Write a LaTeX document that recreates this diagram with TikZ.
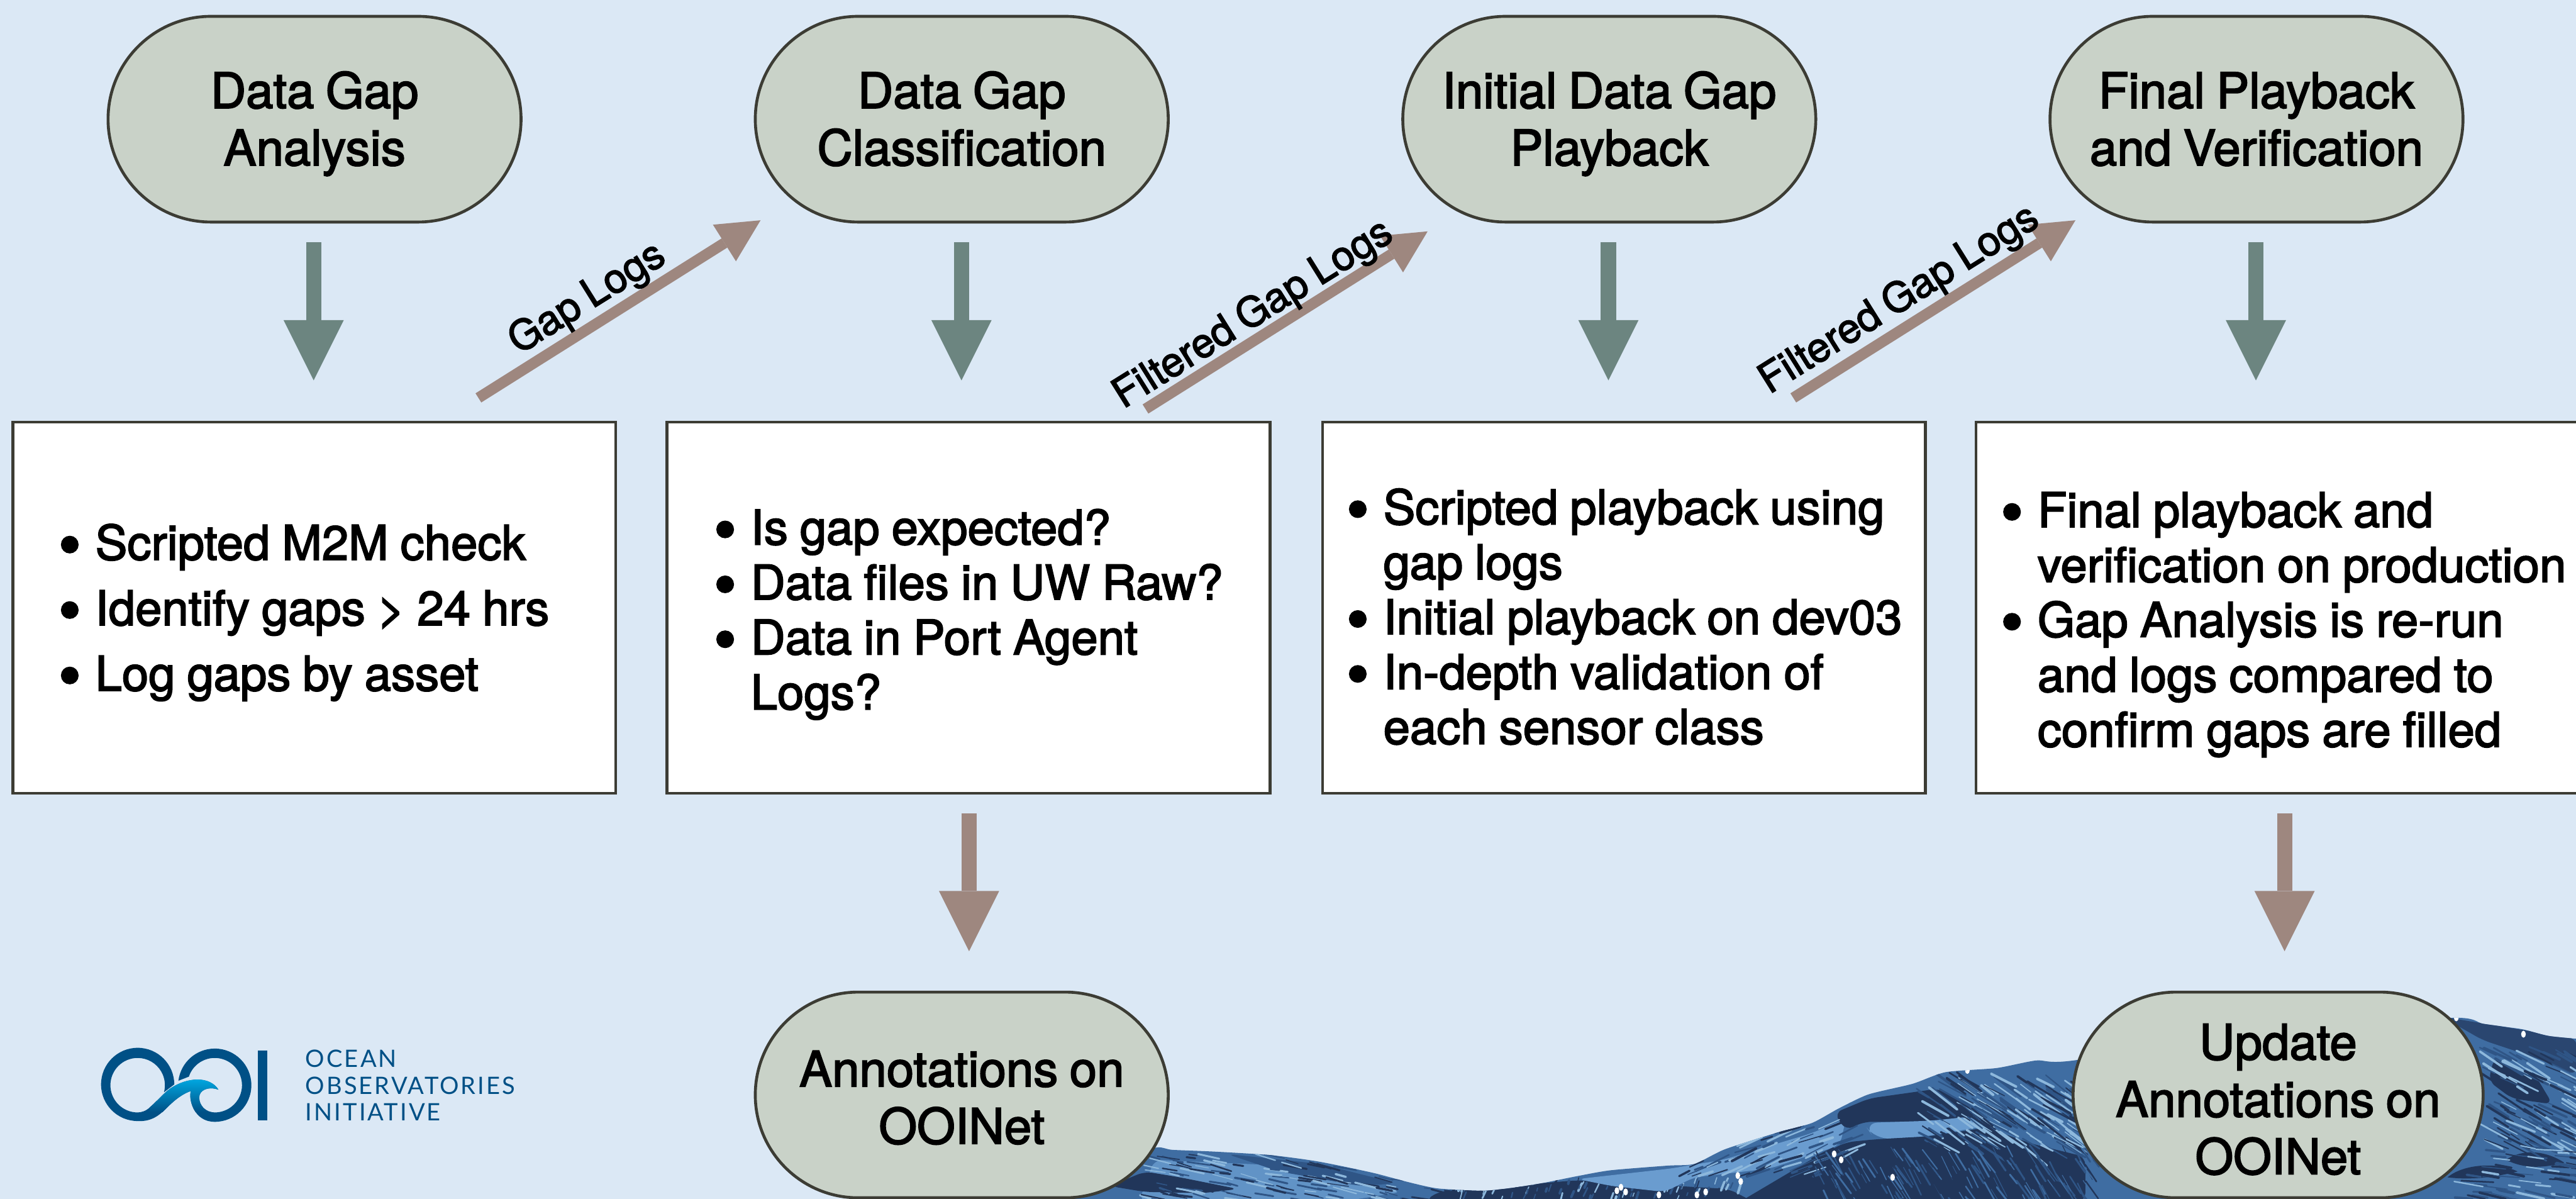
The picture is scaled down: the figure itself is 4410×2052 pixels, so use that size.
\documentclass[tikz,border=0pt]{standalone}
\usepackage{fontspec}
\usetikzlibrary{arrows.meta,shapes.misc}
\setmainfont{TeX Gyre Heros}
\newfontfamily\mainf[RawFeature={embolden=2.5},WordSpace=0.85]{TeX Gyre Heros}
\newfontfamily\logofont[LetterSpace=8]{Lato}
\definecolor{bgc}{HTML}{DBE8F5}
\definecolor{pillc}{HTML}{C9D2C8}
\definecolor{linec}{HTML}{3C3C34}
\definecolor{greenc}{HTML}{6C8580}
\definecolor{brownc}{HTML}{9E877F}
\definecolor{logodark}{HTML}{005086}
\definecolor{logolight}{HTML}{00A6DF}
\definecolor{wbase}{HTML}{3F6DA2}
\definecolor{wdark}{HTML}{21365A}
\definecolor{wlight}{HTML}{6A9CCF}
\definecolor{wmid}{HTML}{2F5586}
\definecolor{wpale}{HTML}{8DB8DC}
\newcommand{\bl}[1]{\par\spaceskip=20.5pt\relax\hangindent=59pt\hangafter=1\noindent\makebox[59pt][l]{\hspace{-4pt}\raisebox{-12pt}[0pt][0pt]{\fontsize{110}{82}\selectfont •}}#1\par}
\newcommand{\ps}[1][98]{\rule[-19pt]{0pt}{#1pt}}
\newcommand{\wavestreaks}[9]{% n x y w h len angle width colours
  \foreach \i in {1,...,#1}{%
    \pgfmathsetmacro{\sx}{#2+rnd*#4}%
    \pgfmathsetmacro{\sy}{#3+rnd*#5}%
    \pgfmathsetmacro{\sl}{#6*(0.4+rnd)}%
    \pgfmathsetmacro{\sa}{#7+rnd*14-7}%
    \pgfmathsetmacro{\sw}{#8*(0.5+rnd)}%
    \pgfmathtruncatemacro{\sc}{random(1,3)}%
    \ifcase\sc\or\def\scol{#9}\or\def\scol{wdark}\or\def\scol{wmid}\fi
    \draw[color=\scol,line width=\sw pt,line cap=round] (\sx,\sy) -- ++({\sl*cos(\sa)},{\sl*sin(\sa)});
  }}
\tikzset{
  pill/.style={rounded rectangle,draw=linec,fill=pillc,line width=5pt,minimum width=707pt,minimum height=352pt,inner sep=0pt,align=center,font=\mainf\fontsize{84}{98}\selectfont,text=black},
  pilltext/.style={inner sep=0pt,align=center,font=\mainf\fontsize{84}{98}\selectfont,text=black},
  panel/.style={rectangle,draw=linec,fill=white,line width=5pt,minimum height=635pt,inner sep=0pt},
  bodytext/.style={anchor=west,inner sep=0pt,font=\mainf\fontsize{82}{94}\selectfont,text=black,align=flush left,text width=1300pt},
  downgreen/.style={draw=greenc,line width=26pt,-{Triangle[length=103pt,width=103pt,line width=0pt]}},
  downbrown/.style={draw=brownc,line width=26pt,-{Triangle[length=103pt,width=103pt,line width=0pt]}},
  diagbrown/.style={draw=brownc,line width=18.5pt,-{Triangle[length=73pt,width=74pt,line width=0pt]}},
  arrowlabel/.style={rotate=32,inner sep=0pt,font=\mainf\fontsize{70}{70}\selectfont,text=black},
  logotext/.style={anchor=west,inner sep=0pt,text=logodark,font=\logofont\fontsize{41}{41}\selectfont},
  wshape/.style={rounded corners=14pt}
}
\begin{document}
\begin{tikzpicture}[x=1pt,y=-1pt]
\clip (0,0) rectangle (4410,2052);
\fill[bgc] (0,0) rectangle (4410,2052);
% ---- sea
\begin{scope}
\clip plot[smooth,tension=.4] coordinates {(1800,2056) (1900,2005) (1976,1965) (2007,1968) (2079,1971) (2175,1977) (2257,1988) (2349,2007) (2410,2023) (2461,2034) (2538,2038) (2589,2033) (2640,2025) (2700,2013) (2757,2003) (2855,1995) (2901,1992) (2953,1967) (3044,1938) (3102,1922) (3148,1897) (3199,1873) (3274,1855) (3331,1835) (3418,1828) (3486,1815) (3550,1815) (3900,1760) (4200,1742) (4250,1752) (4293,1758) (4320,1762) (4363,1773) (4412,1778)} -- (4412,2056) -- cycle;
\fill[wbase] (1800,1700) rectangle (4412,2056);
\pgfmathsetseed{4711}
% left swell
\fill[wlight!80!wbase,wshape] (1976,1985) -- (2200,1995) -- (2400,2040) -- (2300,2056) -- (1950,2056) -- cycle;
\fill[wmid,wshape] (2100,1975) -- (2260,1992) -- (2390,2025) -- (2330,2030) -- (2190,2005) -- cycle;
\fill[wdark,wshape] (1900,2030) -- (1960,2005) -- (2020,2015) -- (2120,2035) -- (2060,2042) -- (1960,2040) -- cycle;
\wavestreaks{170}{1950}{1975}{560}{77}{30}{12}{2.5}{wpale}
% mid trough, speckled
\fill[wdark,wshape] (2460,2040) -- (2700,2020) -- (2960,2035) -- (3000,2056) -- (2440,2056) -- cycle;
\wavestreaks{110}{2480}{2025}{500}{30}{12}{-70}{3}{wpale}
% rising face: light crest and dark interior
\fill[wlight,wshape] (2700,2018) -- (2860,2000) -- (2950,1985) -- (3100,1940) -- (3160,1915) -- (3150,1960) -- (3030,2000) -- (2900,2015) -- (2850,2040) -- (2760,2030) -- cycle;
\fill[wdark,wshape] (3140,1905) -- (3200,1880) -- (3320,1863) -- (3380,1900) -- (3380,1915) -- (3310,1920) -- (3190,1920) -- (3160,1935) -- cycle;
\fill[wlight,rounded corners=25pt] (3190,1922) -- (3310,1918) -- (3380,1910) -- (3410,1925) -- (3300,1945) -- (3210,1950) -- cycle;
\fill[wdark,wshape] (2980,2056) -- (3100,1985) -- (3160,1955) -- (3210,1950) -- (3300,1945) -- (3400,1930) -- (3480,1958) -- (3570,1980) -- (3570,2056) -- cycle;
\wavestreaks{110}{2860}{1930}{300}{85}{35}{-22}{3}{wpale}
\wavestreaks{190}{3280}{1835}{280}{130}{45}{33}{3}{wpale}
\wavestreaks{170}{3100}{1960}{480}{92}{35}{58}{2.2}{wbase}
% far right swell
\fill[wdark!70!wbase,wshape] (4180,1740) -- (4290,1758) -- (4412,1778) -- (4412,1840) -- (4340,1810) -- (4250,1780) -- cycle;
\fill[wdark,wshape] (4270,1810) -- (4340,1840) -- (4370,1890) -- (4300,1880) -- (4260,1850) -- cycle;
\fill[wdark] (4290,1985) .. controls (4320,1965) and (4360,1970) .. (4390,1990) .. controls (4350,2000) and (4320,2000) .. (4290,1985) -- cycle;
\fill[wdark] (4190,2015) .. controls (4220,1990) and (4280,1990) .. (4310,2005) .. controls (4270,2015) and (4230,2020) .. (4190,2015) -- cycle;
\wavestreaks{130}{4240}{1790}{180}{170}{40}{28}{3}{wpale}
\wavestreaks{60}{4200}{1960}{220}{92}{40}{8}{3}{wpale}
% white flecks
\foreach \fx/\fy in {2775/2032,2783/2040,2768/2038,2975/2012,2980/2022,3140/1975,3152/1985,3240/2015,2840/2045,2905/2045,2920/2040,3368/1832,4205/1742,4320/1770}
  \fill[white] (\fx,\fy) ellipse [x radius=4,y radius=6];
\end{scope}
% ---- logo
\begin{scope}[shift={(150,1770)},x=0.33333pt,y=-0.33333pt]
\def\logooutline{(445,258) arc[start angle=0,end angle=-270,radius=188]
  .. controls (330,450) and (370,415) .. (410,375)
  .. controls (450,335) and (490,305) .. (530,292)
  .. controls (518,335) and (545,450) .. (653,450)
  arc[start angle=90,end angle=-173,radius=188]
  -- (520,218)
  arc[start angle=-161.7,end angle=90,radius=140]
  .. controls (605,402) and (573,365) .. (573,325)
  .. controls (573,290) and (615,265) .. (672,285)
  .. controls (650,250) and (610,233) .. (565,233)
  .. controls (500,233) and (440,265) .. (410,290)
  .. controls (375,320) and (350,350) .. (320,375)
  .. controls (300,395) and (275,402) .. (257,402)
  arc[start angle=90,end angle=375,radius=140]
  -- cycle}
\fill[logodark] \logooutline;
\begin{scope}
\clip (672,285) .. controls (650,250) and (610,233) .. (565,233)
  .. controls (500,233) and (440,265) .. (410,290)
  .. controls (375,320) and (350,350) .. (320,375)
  -- (320,450) .. controls (370,415) and (370,415) .. (410,375)
  .. controls (450,335) and (490,305) .. (530,292)
  .. controls (518,335) and (545,450) .. (653,450) -- (653,402)
  .. controls (605,402) and (573,365) .. (573,325)
  .. controls (573,290) and (615,265) .. (672,285) -- cycle;
\shade[top color=logolight,bottom color=logodark] (300,233) rectangle (700,400);
\end{scope}
\fill[logodark] (875,83) rectangle (923,443);
\end{scope}
\node[logotext] (l1) at (523,1812) {OCEAN};
\node[logotext] (l2) at (523,1858) {OBSERVATORIES};
\node[logotext] (l3) at (523,1903) {INITIATIVE};
% ---- process nodes
\node[pill] (p1) at (538.5,204) {\ps Data Gap\\Analysis\ps};
\node[pill] (p2) at (1646.5,204) {\ps Data Gap\\Classification\ps};
\node[pill] (p3) at (2755,204) {\ps Initial Data Gap\\Playback\ps};
\node[pill] (p4) at (3863,204) {\ps Final Playback\\and Verification\ps};
\node[pill] (p5) at (1646.5,1874) {\ps[107]Annotations on\\OOINet\ps};
\node[pill,minimum width=702pt] (p6) at (3900,1874) {};
\node[pilltext] (p6t) at (3900,1881.5) {\ps Update\\Annotations on\\OOINet\ps};
\node[panel,minimum width=1032pt] (b1) at (538,1040) {};
\node[panel,minimum width=1032pt] (b2) at (1658,1040) {};
\node[panel,minimum width=1032pt] (b3) at (2780,1040) {};
\node[panel,minimum width=1060pt] (b4) at (3913,1040) {};
\node[bodytext] (t1) at (104,1032) {\bl{Scripted M2M check}\vspace{18pt}\bl{Identify gaps > 24 hrs}\vspace{18pt}\bl{Log gaps by asset}};
\node[bodytext] (t2) at (1226,1035) {\bl{Is gap expected?}\bl{Data files in UW Raw?}\bl{Data in Port Agent\break Logs?}};
\node[bodytext] (t3) at (2309,1039) {\bl{Scripted playback using\break gap logs}\bl{Initial playback on dev03}\bl{In-depth validation of\break each sensor class}};
\node[bodytext] (t4) at (3429,1052) {\bl{Final playback and\break verification on production}\bl{Gap Analysis is re-run\break and logs compared to\break confirm gaps are filled}};
% ---- connector end points
\coordinate (d1s) at (537,415); \coordinate (d1e) at (537,651);
\coordinate (d2s) at (1646,415); \coordinate (d2e) at (1646,651);
\coordinate (d3s) at (2753.5,415); \coordinate (d3e) at (2753.5,651);
\coordinate (d4s) at (3862,415); \coordinate (d4e) at (3862,651);
\coordinate (o1s) at (1659,1392); \coordinate (o1e) at (1659,1628);
\coordinate (o2s) at (3911,1392); \coordinate (o2e) at (3911,1628);
\coordinate (g1s) at (819,681); \coordinate (g1e) at (1302,377);
\coordinate (g2s) at (1961,700); \coordinate (g2e) at (2444,396);
\coordinate (g3s) at (3070,681); \coordinate (g3e) at (3553,377);
\draw[downgreen] (d1s) -- (d1e);
\draw[downgreen] (d2s) -- (d2e);
\draw[downgreen] (d3s) -- (d3e);
\draw[downgreen] (d4s) -- (d4e);
\draw[downbrown] (o1s) -- (o1e);
\draw[downbrown] (o2s) -- (o2e);
\draw[diagbrown] (g1s) -- (g1e);
\draw[diagbrown] (g2s) -- (g2e);
\draw[diagbrown] (g3s) -- (g3e);
\node[arrowlabel] (a1) at (1006,512) {Gap Logs};
\node[arrowlabel] (a2) at (2146,539) {Filtered Gap Logs};
\node[arrowlabel] (a3) at (3252,514) {Filtered Gap Logs};
\end{tikzpicture}
\end{document}
